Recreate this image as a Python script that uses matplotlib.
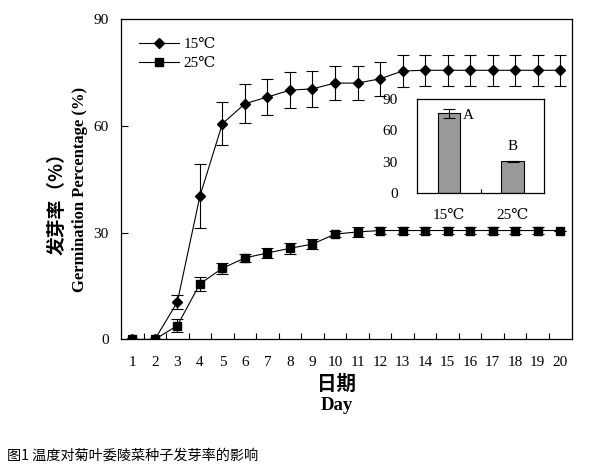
import matplotlib
matplotlib.use("Agg")
import matplotlib.pyplot as plt
from matplotlib.lines import Line2D

days = list(range(1, 21))
g15 = [0, 0, 10.5, 40.2, 60.6, 66.2, 68.1, 70.0, 70.4, 72.0, 72.0, 73.2, 75.4, 75.6, 75.6, 75.6, 75.6, 75.6, 75.6, 75.6]
e15 = [0, 0, 2.0, 9.0, 6.0, 5.5, 5.0, 5.0, 5.0, 4.7, 4.8, 4.7, 4.5, 4.3, 4.3, 4.3, 4.3, 4.3, 4.3, 4.3]
g25 = [0, 0, 3.9, 15.6, 20.0, 22.9, 24.3, 25.6, 26.8, 29.6, 30.2, 30.6, 30.6, 30.6, 30.6, 30.6, 30.6, 30.6, 30.6, 30.6]
e25 = [0, 0, 1.8, 2.0, 1.5, 1.0, 1.3, 1.5, 1.3, 0.8, 1.5, 1.0, 1.0, 1.0, 1.0, 1.0, 1.0, 1.0, 1.0, 0]
series_labels = ["15℃", "25℃"]
yticks = [0, 30, 60, 90]

inset_cats = ["15℃", "25℃"]
inset_vals = [76.0, 30.5]
inset_err = [4.4, 0.6]
inset_letters = ["A", "B"]

SERIF = ["Liberation Serif", "DejaVu Serif"]
CJK = ["Noto Sans CJK SC", "DejaVu Sans"]

fig = plt.figure(figsize=(6.0, 4.66), dpi=100)
ax = fig.add_axes([0.2017, 0.2715, 0.7508, 0.6877])

ax.errorbar(days, g15, yerr=e15, fmt='-D', color='black', ms=5, lw=0.8,
            elinewidth=0.8, capsize=4, capthick=0.8, zorder=3)
ax.errorbar(days, g25, yerr=e25, fmt='-s', color='black', ms=5.5, lw=0.8,
            elinewidth=0.8, capsize=4, capthick=0.8, zorder=3)

ax.set_xlim(0.5, 20.5)
ax.set_ylim(0, 90)
ax.set_yticks(yticks)
ax.set_xticks(days)
ax.set_xticks([d + 0.5 for d in days[:-1]], minor=True)
ax.tick_params(axis='x', which='major', length=0, pad=12)
ax.tick_params(axis='x', which='minor', direction='in', length=4, width=0.8)
ax.tick_params(axis='y', direction='in', length=5, width=0.8, pad=9)
for lab in ax.get_xticklabels() + ax.get_yticklabels():
    lab.set_family(SERIF)
    lab.set_fontsize(11)
for sp in ax.spines.values():
    sp.set_linewidth(0.9)

handles = [
    Line2D([], [], color='black', lw=0.8, marker='D', ms=5),
    Line2D([], [], color='black', lw=0.8, marker='s', ms=5.5),
]
ax.legend(handles, series_labels, loc='upper left', bbox_to_anchor=(0.01, 0.985), frameon=False,
          handlelength=2.6, handletextpad=0.3, labelspacing=0.35,
          prop={'family': SERIF, 'size': 11})

# axis labels
fig.text(337 / 600, 1 - 384 / 466, "日期", ha='center', va='center',
         family=CJK, fontweight='bold', fontsize=14)
fig.text(337 / 600, 1 - 405 / 466, "Day", ha='center', va='center',
         family=SERIF, fontweight='bold', fontsize=13.5)
fig.text(80 / 600, 1 - 189 / 466, "Germination Percentage (%)", ha='center', va='center',
         rotation=90, family=SERIF, fontweight='bold', fontsize=12)
fig.text(57 / 600, 1 - 199 / 466, "发芽率（%）", ha='center', va='center',
         rotation=90, family=CJK, fontweight='bold', fontsize=13.5)

# caption
fig.text(7 / 600, 1 - 456 / 466, "图1 温度对菊叶委陵菜种子发芽率的影响", ha='left', va='center',
         family=CJK, fontsize=10.2)

# inset
ax2 = fig.add_axes([0.6955, 0.5852, 0.2117, 0.2030])
xpos = [1, 2]
ax2.bar(xpos, inset_vals, width=0.35, color='#999999', edgecolor='black', linewidth=0.8,
        yerr=inset_err, error_kw=dict(ecolor='black', elinewidth=0.8, capsize=4, capthick=0.8))
ax2.set_xlim(0.5, 2.5)
ax2.set_ylim(0, 90)
ax2.set_yticks(yticks)
ax2.set_xticks(xpos)
ax2.set_xticklabels(inset_cats)
ax2.set_xticks([1.5], minor=True)
ax2.tick_params(axis='x', which='major', length=0, pad=11)
ax2.tick_params(axis='x', which='minor', direction='in', length=3, width=0.8)
ax2.tick_params(axis='y', direction='in', length=0, pad=14)
for lab in ax2.get_xticklabels() + ax2.get_yticklabels():
    lab.set_family(SERIF)
    lab.set_fontsize(11)
for sp in ax2.spines.values():
    sp.set_linewidth(0.9)
ax2.text(1 + 0.22, inset_vals[0] - 2, inset_letters[0], ha='left', va='center',
         family=SERIF, fontsize=11)
ax2.text(2, inset_vals[1] + 14, inset_letters[1], ha='center', va='center',
         family=SERIF, fontsize=11)

fig.savefig("out.png", dpi=100)
